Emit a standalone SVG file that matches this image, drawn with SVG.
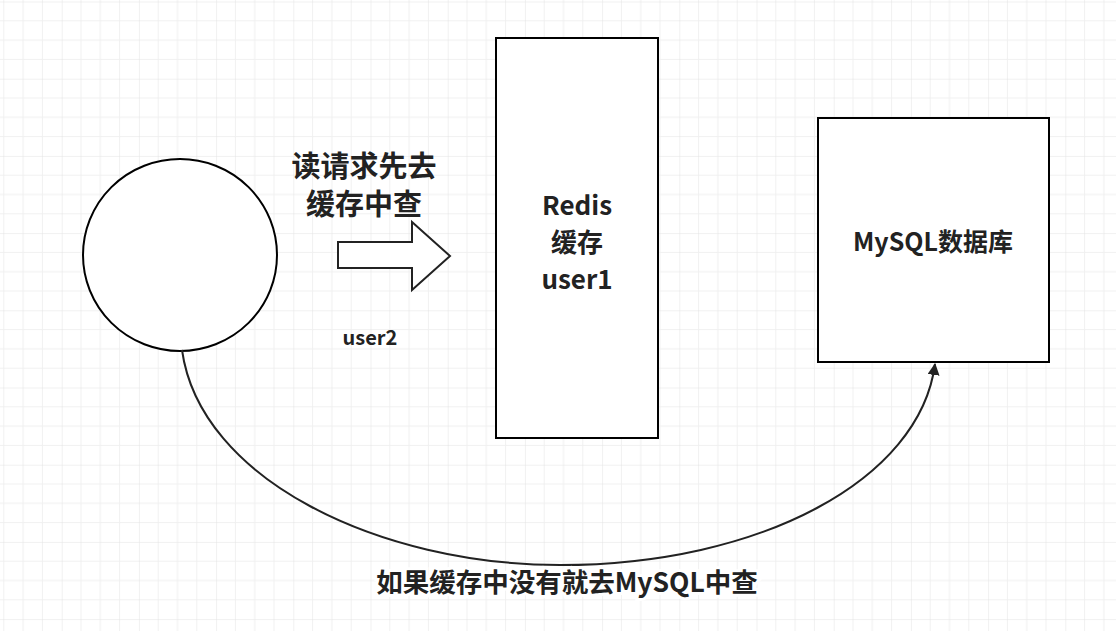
<svg xmlns="http://www.w3.org/2000/svg" width="1116" height="631" viewBox="0 0 1116 631">
<defs>
<pattern id="g" x="-15.5" y="1.5" width="77.2" height="77.2" patternUnits="userSpaceOnUse">
<path d="M19.3 0V77.2M38.6 0V77.2M57.9 0V77.2M0 19.3H77.2M0 38.6H77.2M0 57.9H77.2" stroke="#f0f0f0" stroke-width="1"/>
<path d="M0 0V77.2M0 0H77.2" stroke="#e3e3e3" stroke-width="1"/>
</pattern>
<marker id="ah" markerWidth="12" markerHeight="14" refX="11" refY="6" orient="auto" markerUnits="userSpaceOnUse">
<path d="M0 0L12 6L0 12Z" fill="#222"/>
</marker>
<style>
.s{fill:#fff;stroke:#000;stroke-width:2}
.t{font-family:"Noto Sans CJK SC","Noto Sans",sans-serif;font-weight:bold;fill:#222;text-anchor:middle}
</style>
</defs>
<rect width="1116" height="631" fill="#fff"/>
<rect width="1116" height="631" fill="url(#g)"/>
<g id="client"><ellipse class="s" cx="180" cy="255" rx="97" ry="96"/></g>
<g id="redis"><rect class="s" x="496" y="38" width="162" height="400"/>
<text class="t" font-size="26" x="577" y="215">Redis</text>
<text class="t" font-size="26" x="577" y="252">缓存</text>
<text class="t" font-size="26" x="577" y="289">user1</text></g>
<g id="mysql"><rect class="s" x="818" y="118" width="231" height="244"/>
<text class="t" font-size="25" x="933" y="251">MySQL数据库</text></g>
<g id="labels">
<text class="t" font-size="29" x="364" y="177">读请求先去</text>
<text class="t" font-size="29" x="364" y="215">缓存中查</text>
<text class="t" font-size="20" x="370" y="345">user2</text>
</g>
<g id="connectors">
<path d="M338 242H412V222L450 256L412 290V268H338Z" fill="#fff" stroke="#222" stroke-width="2"/>
<path d="M182 350C200 480 380 565 560 565C760 565 920 480 935 364" fill="none" stroke="#222" stroke-width="2" marker-end="url(#ah)"/>
<text class="t" font-size="26.5" x="567" y="592" stroke="#fff" stroke-width="6" paint-order="stroke">如果缓存中没有就去MySQL中查</text>
</g>
</svg>
